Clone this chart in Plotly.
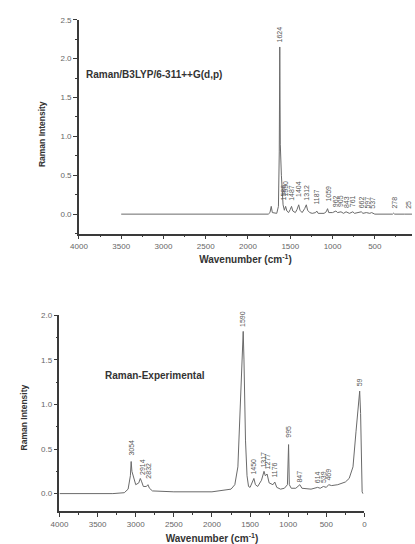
import plotly.graph_objects as go

# ---------------- data ----------------
calc_wn = [3500, 3250, 3210, 3180, 1760, 1740, 1725, 1712, 1660, 1640, 1630, 1624, 1618, 1605,
           1595, 1585, 1570, 1555, 1540, 1520, 1500, 1485, 1470, 1440, 1420, 1400, 1385, 1360,
           1330, 1310, 1295, 1270, 1240, 1200, 1187, 1170, 1100, 1075, 1059, 1045, 1000, 960,
           940, 900, 870, 840, 800, 760, 740, 700, 660, 640, 600, 560, 537, 500, 420, 290, 278,
           265, 150, 60]
calc_int = [0.0, 0.0, 0.008, 0.0, 0.0, 0.02, 0.1, 0.02, 0.01, 0.1, 0.8, 2.15, 0.9, 0.5,
            0.3, 0.12, 0.05, 0.1, 0.04, 0.02, 0.06, 0.1, 0.04, 0.02, 0.06, 0.12, 0.05, 0.02,
            0.07, 0.12, 0.05, 0.02, 0.01, 0.02, 0.04, 0.01, 0.01, 0.03, 0.07, 0.02, 0.02, 0.04,
            0.02, 0.03, 0.01, 0.03, 0.01, 0.03, 0.01, 0.02, 0.03, 0.01, 0.02, 0.01, 0.02, 0.0, 0.0, 0.0, 0.012,
            0.0, 0.0, 0.0]

exp_wn = [4000, 3300, 3150, 3100, 3070, 3060, 3050, 3000, 2960, 2940, 2925, 2900, 2860, 2840,
          2820, 2780, 2500, 2000, 1750, 1700, 1660, 1630, 1600, 1590, 1580, 1560, 1540, 1520,
          1500, 1470, 1450, 1430, 1400, 1350, 1317, 1300, 1277, 1250, 1200, 1176, 1150, 1100,
          1050, 1010, 995, 985, 960, 900, 847, 820, 700, 614, 580, 539, 500, 469, 430, 350,
          250, 200, 150, 110, 80, 62, 50, 40, 30, 20]
exp_int = [0.0, 0.0, 0.01, 0.05, 0.2, 0.36, 0.25, 0.1, 0.12, 0.17, 0.14, 0.08, 0.08, 0.1,
           0.06, 0.03, 0.02, 0.02, 0.05, 0.1, 0.3, 0.9, 1.6, 1.82, 1.5, 0.6, 0.2, 0.08,
           0.07, 0.12, 0.17, 0.1, 0.08, 0.15, 0.25, 0.2, 0.22, 0.12, 0.1, 0.13, 0.07, 0.05,
           0.06, 0.1, 0.55, 0.1, 0.06, 0.06, 0.1, 0.06, 0.05, 0.07, 0.06, 0.08, 0.07, 0.1,
           0.09, 0.1, 0.13, 0.17, 0.3, 0.7, 1.05, 1.15, 0.9, 0.3, 0.02, 0.0]

calc_labels = ["1624", "1586", "1550", "1487", "1404", "1312", "1187", "1059", "962", "905",
               "843", "761", "662", "597", "537", "278", "25"]
calc_label_x = [1624, 1586, 1550, 1487, 1404, 1312, 1187, 1059, 962, 905,
                843, 761, 662, 597, 537, 278, 110]
calc_label_y = [2.18, 0.15, 0.2, 0.15, 0.2, 0.15, 0.1, 0.13, 0.06, 0.06,
                0.05, 0.06, 0.05, 0.04, 0.04, 0.04, 0.04]

exp_labels = ["3054", "2914", "2832", "1590", "1450", "1317", "1277", "1176", "995", "847",
              "614", "539", "469", "59"]
exp_label_x = [3054, 2914, 2832, 1590, 1450, 1317, 1277, 1176, 995, 847, 614, 539, 469, 59]
exp_label_y = [0.4, 0.19, 0.14, 1.85, 0.19, 0.27, 0.25, 0.16, 0.6, 0.1, 0.09, 0.1, 0.12, 1.18]

# ---------------- figure ----------------
LINE = "#6a6a6a"
AX = "#3a3a3a"
FONT = "Liberation Sans, Arial, sans-serif"

fig = go.Figure()
fig.add_trace(go.Scatter(x=calc_wn, y=calc_int, mode="lines", line=dict(color=LINE, width=1),
                         xaxis="x", yaxis="y", showlegend=False))
fig.add_trace(go.Scatter(x=exp_wn, y=exp_int, mode="lines", line=dict(color=LINE, width=1),
                         xaxis="x2", yaxis="y2", showlegend=False))

annotations = []
for t, x, y in zip(calc_labels, calc_label_x, calc_label_y):
    annotations.append(dict(x=x, y=y, xref="x", yref="y", text=t, textangle=-90,
                            showarrow=False, xanchor="center", yanchor="bottom",
                            font=dict(size=7, color="#555", family=FONT)))
for t, x, y in zip(exp_labels, exp_label_x, exp_label_y):
    annotations.append(dict(x=x, y=y, xref="x2", yref="y2", text=t, textangle=-90,
                            showarrow=False, xanchor="center", yanchor="bottom",
                            font=dict(size=7, color="#555", family=FONT)))

annotations.append(dict(x=3935, y=1.79, xref="x", yref="y", text="<b>Raman/B3LYP/6-311++G(d,p)</b>",
                        showarrow=False, xanchor="left", yanchor="middle",
                        font=dict(size=10, color="#333", family=FONT)))
annotations.append(dict(x=2750, y=1.32, xref="x2", yref="y2", text="<b>Raman-Experimental</b>",
                        showarrow=False, xanchor="center", yanchor="middle",
                        font=dict(size=10, color="#333", family=FONT)))
# y-axis titles
annotations.append(dict(x=34/415, y=1-132/544, xref="paper", yref="paper", text="<b>Raman Intensity</b>",
                        textangle=-90, showarrow=False, xanchor="center", yanchor="middle",
                        font=dict(size=8.5, color="#333", family=FONT)))
annotations.append(dict(x=15/415, y=1-420/544, xref="paper", yref="paper", text="<b>Raman Intensity</b>",
                        textangle=-90, showarrow=False, xanchor="center", yanchor="middle",
                        font=dict(size=8.5, color="#333", family=FONT)))

xax = dict(autorange=False, showgrid=False, zeroline=False, showline=True, linecolor=AX, linewidth=1.5,
           ticks="outside", ticklen=4, tickwidth=1, tickcolor=AX, dtick=500,
           minor=dict(ticks="outside", ticklen=2, tickcolor=AX, dtick=250),
           tickfont=dict(size=8, color="#666", family=FONT),
           title=dict(text="<b>Wavenumber (cm<sup>-1</sup>)</b>", font=dict(size=10, color="#333", family=FONT), standoff=6))
yax = dict(autorange=False, showgrid=False, zeroline=False, showline=True, linecolor=AX, linewidth=1.5,
           ticks="outside", ticklen=4, tickwidth=1, tickcolor=AX, dtick=0.5, tickformat=".1f",
           minor=dict(ticks="outside", ticklen=2, tickcolor=AX, dtick=0.25),
           tickfont=dict(size=8, color="#666", family=FONT))

fig.update_layout(
    width=415, height=544, margin=dict(l=0, r=0, t=0, b=0),
    paper_bgcolor="white", plot_bgcolor="white",
    xaxis={**xax, "domain": [72/415, 1.0], "range": [4000, 60], "anchor": "y"},
    yaxis={**yax, "domain": [1-233/544, 1-16/544], "range": [-0.25, 2.5], "anchor": "x"},
    xaxis2={**xax, "domain": [52/415, 366/415], "range": [4000, 0], "anchor": "y2",
            "title": {**xax["title"], "standoff": 8}},
    yaxis2={**yax, "domain": [1-515/544, 1-316/544], "range": [-0.2, 2.0], "anchor": "x2"},
    annotations=annotations,
)

fig.write_html("out.html", config={"displayModeBar": False},
               post_script="document.body.style.margin='0';document.documentElement.style.overflow='hidden';")
